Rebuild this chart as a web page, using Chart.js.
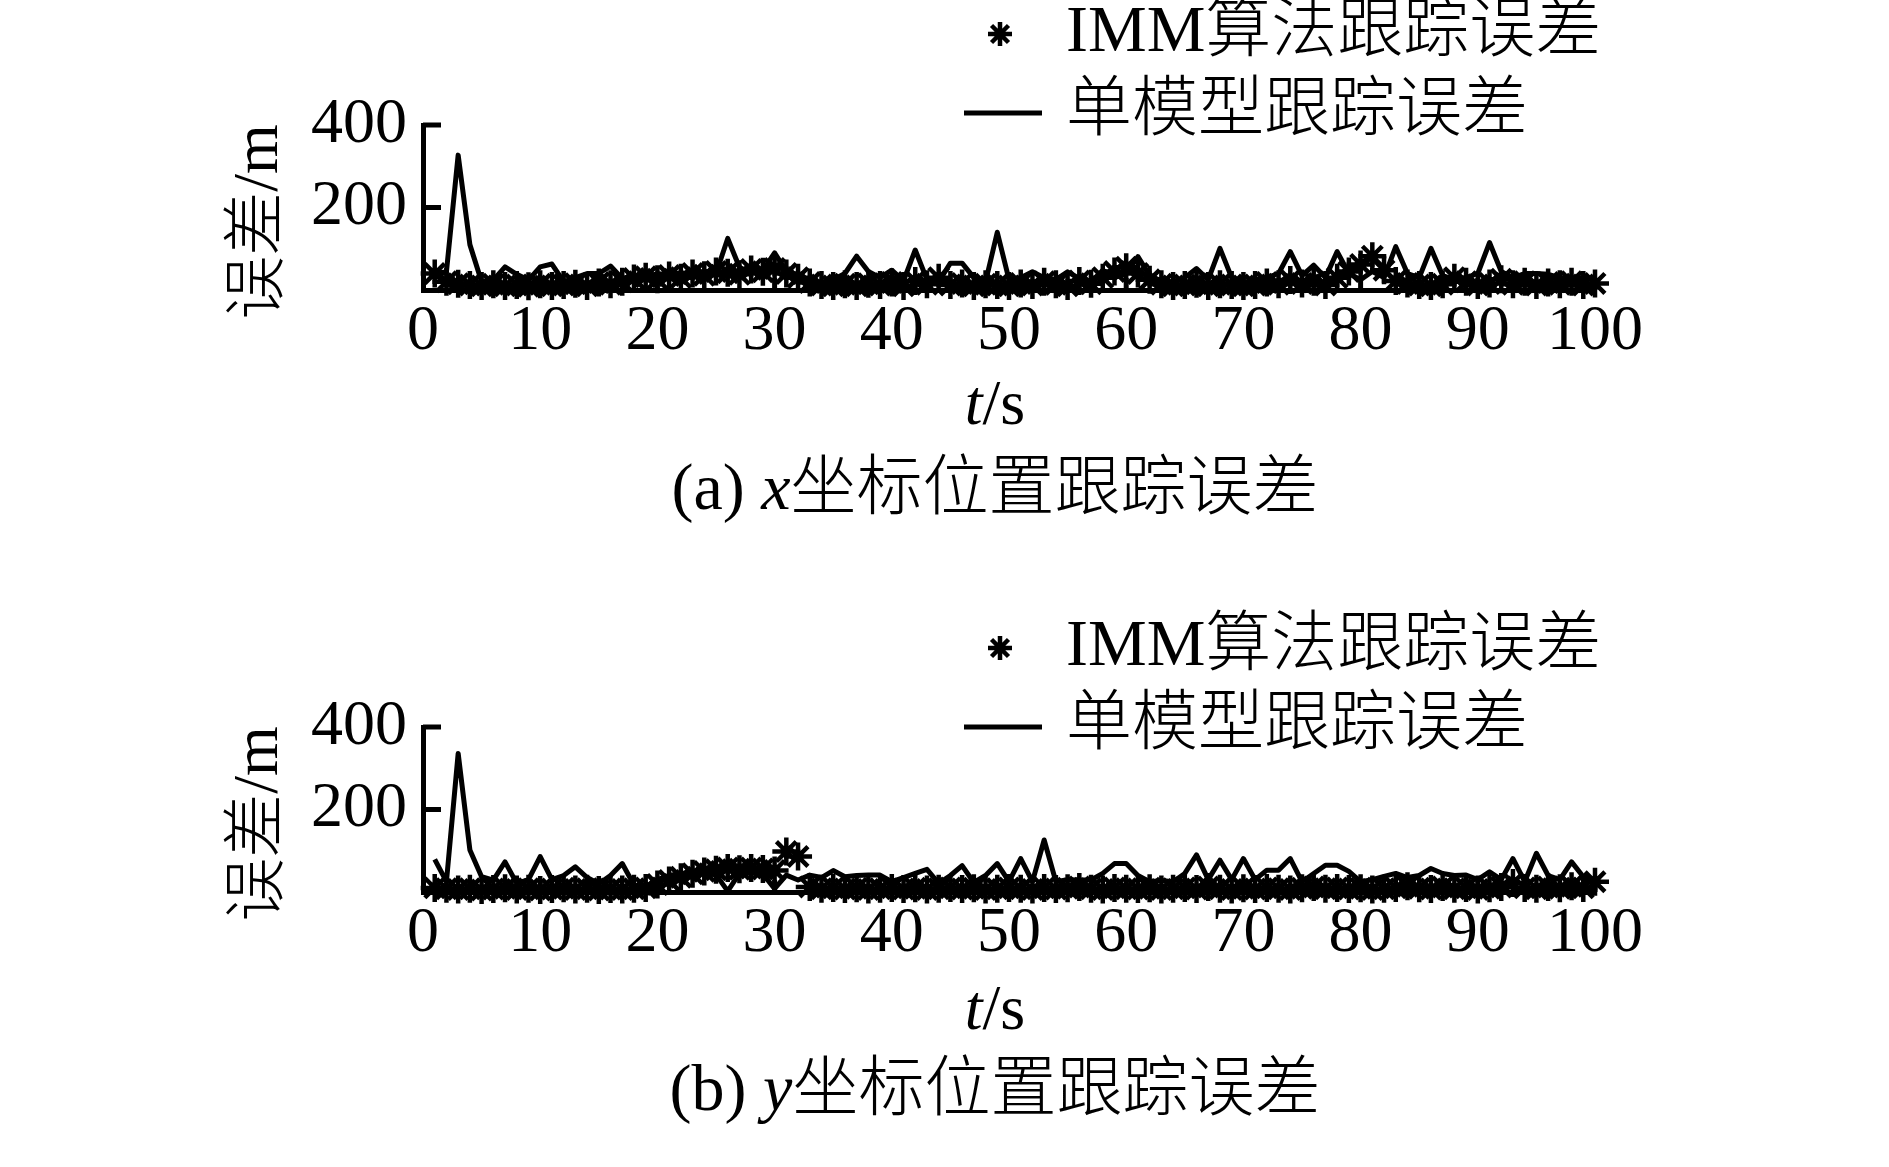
<!DOCTYPE html>
<html lang="zh">
<head>
<meta charset="utf-8">
<title>IMM tracking error</title>
<script src="https://cdn.jsdelivr.net/npm/chart.js@4.4.0/dist/chart.umd.min.js"></script>
<style>
  html, body { margin: 0; padding: 0; background: #fff; }
  #page { position: relative; width: 1889px; height: 1167px; overflow: hidden; background: #fff; }
  canvas { position: absolute; left: 0; }
  #chartX { top: 0; }
  #chartY { top: 602px; }
</style>
</head>
<body>
<div id="page">
  <canvas id="chartX" width="1889" height="565"></canvas>
  <canvas id="chartY" width="1889" height="565"></canvas>
</div>
<script>
// time, s
const times = [1, 2, 3, 4, 5, 6, 7, 8, 9, 10,
  11, 12, 13, 14, 15, 16, 17, 18, 19, 20,
  21, 22, 23, 24, 25, 26, 27, 28, 29, 30,
  31, 32, 33, 34, 35, 36, 37, 38, 39, 40,
  41, 42, 43, 44, 45, 46, 47, 48, 49, 50,
  51, 52, 53, 54, 55, 56, 57, 58, 59, 60,
  61, 62, 63, 64, 65, 66, 67, 68, 69, 70,
  71, 72, 73, 74, 75, 76, 77, 78, 79, 80,
  81, 82, 83, 84, 85, 86, 87, 88, 89, 90,
  91, 92, 93, 94, 95, 96, 97, 98, 99, 100];

// (a) x position error, m
const immX = [40, 20, 15, 12, 10, 14, 10, 12, 9, 14,
  10, 12, 15, 10, 18, 14, 20, 28, 32, 26,
  35, 30, 40, 36, 45, 42, 38, 50, 44, 52,
  40, 30, 18, 12, 10, 14, 10, 15, 12, 18,
  10, 22, 14, 30, 12, 16, 10, 14, 12, 10,
  16, 12, 20, 14, 10, 22, 15, 30, 45, 55,
  40, 25, 14, 10, 12, 15, 10, 14, 12, 10,
  12, 18, 14, 24, 16, 20, 12, 30, 45, 62,
  82, 48, 22, 16, 12, 10, 14, 30, 20, 12,
  16, 26, 14, 20, 12, 18, 14, 20, 12, 16];
const singleX = [40, 44, 327, 110, 20, 24, 56, 38, 24, 56,
  63, 20, 30, 40, 40, 58, 28, 35, 30, 40,
  36, 42, 38, 45, 40, 125, 55, 40, 48, 90,
  45, 30, 22, 18, 25, 40, 82, 45, 30, 48,
  22, 97, 25, 20, 65, 65, 30, 20, 140, 25,
  30, 44, 30, 25, 44, 28, 20, 48, 30, 40,
  81, 35, 22, 20, 30, 52, 25, 101, 30, 18,
  25, 30, 40, 93, 35, 60, 30, 93, 40, 25,
  45, 30, 105, 40, 30, 101, 35, 25, 30, 40,
  115, 45, 30, 40, 40, 38, 30, 25, 30, 28];

// (b) y position error, m
const immY = [10, 8, 6, 8, 5, 7, 9, 6, 8, 5,
  7, 9, 6, 8, 5, 7, 6, 8, 10, 18,
  28, 36, 44, 50, 54, 58, 55, 58, 56, 52,
  98, 86, 12, 8, 10, 7, 9, 6, 8, 10,
  7, 9, 6, 8, 10, 7, 9, 6, 8, 10,
  8, 6, 10, 7, 9, 12, 8, 6, 10, 8,
  7, 9, 6, 8, 10, 7, 12, 8, 6, 9,
  7, 10, 8, 6, 9, 12, 8, 10, 7, 9,
  6, 8, 10, 14, 9, 7, 12, 8, 10, 6,
  9, 12, 22, 10, 8, 12, 9, 14, 10, 25];
const singleY = [79, 25, 336, 102, 37, 29, 73, 21, 30, 86,
  30, 40, 61, 35, 20, 40, 69, 17, 10, 30,
  40, 45, 48, 45, 42, 2, 45, 48, 44, 8,
  41, 29, 41, 35, 52, 37, 40, 41, 41, 25,
  35, 45, 55, 21, 40, 64, 23, 40, 69, 25,
  81, 25, 126, 25, 30, 29, 29, 45, 69, 69,
  40, 25, 28, 25, 45, 90, 30, 77, 30, 81,
  30, 53, 53, 81, 25, 45, 65, 65, 50, 25,
  30, 38, 45, 35, 40, 57, 45, 40, 41, 30,
  49, 30, 81, 25, 94, 40, 30, 73, 37, 29];

const xTicks = [0, 10, 20, 30, 40, 50, 60, 70, 80, 90, 100];
const yTicks = [200, 400];
const legendLabels = ['IMM算法跟踪误差', '单模型跟踪误差'];

const serif = '"Liberation Serif", "Times New Roman", serif';
const mixed = '"Liberation Serif", "Noto Sans CJK SC", sans-serif';

// Draw a run of differently styled text pieces as one line
function drawParts(ctx, parts, x, y, align) {
    let total = 0;
    parts.forEach(p => {
        ctx.font = p.font;
        p.w = ctx.measureText(p.text).width;
        total += p.w;
    });
    let cx = align === 'center' ? x - total / 2 : x;
    parts.forEach(p => {
        ctx.font = p.font;
        ctx.fillText(p.text, cx, y);
        cx += p.w;
    });
}

// Inward ticks, legend, axis titles and caption
function panelDecor(panel) {
    return {
        id: 'panelDecor',
        afterDraw(chart) {
            const ctx = chart.ctx;
            const { left, bottom } = chart.chartArea;
            const xs = chart.scales.x;
            const ys = chart.scales.y;

            ctx.save();
            ctx.strokeStyle = '#000';
            ctx.fillStyle = '#000';
            ctx.lineWidth = 5;

            yTicks.forEach(v => {
                const py = ys.getPixelForValue(v);
                ctx.beginPath();
                ctx.moveTo(left, py);
                ctx.lineTo(left + 18, py);
                ctx.stroke();
            });
            xTicks.forEach(v => {
                if (v === 0) return;
                const px = xs.getPixelForValue(v);
                ctx.beginPath();
                ctx.moveTo(px, bottom);
                ctx.lineTo(px, bottom - 12);
                ctx.stroke();
            });

            // legend
            const immSet = chart.data.datasets[0];
            const lineSet = chart.data.datasets[1];
            ctx.lineWidth = immSet.pointBorderWidth;
            Chart.helpers.drawPoint(ctx, {
                pointStyle: 'star', radius: 12, rotation: 0, borderWidth: immSet.pointBorderWidth
            }, 1000, panel.legendY[0]);
            ctx.lineWidth = lineSet.borderWidth;
            ctx.beginPath();
            ctx.moveTo(964, panel.legendY[1]);
            ctx.lineTo(1042, panel.legendY[1]);
            ctx.stroke();

            ctx.textBaseline = 'middle';
            ctx.textAlign = 'left';
            drawParts(ctx, [{ text: immSet.label, font: '300 66px ' + mixed }], 1066, panel.legendY[0], 'left');
            drawParts(ctx, [{ text: lineSet.label, font: '300 66px ' + mixed }], 1066, panel.legendY[1], 'left');

            // y axis title
            ctx.save();
            ctx.translate(260, 222);
            ctx.rotate(-Math.PI / 2);
            drawParts(ctx, [{ text: '误差/m', font: '300 64px ' + mixed }], 0, 0, 'center');
            ctx.restore();

            // x axis title
            drawParts(ctx, [
                { text: 't', font: 'italic 64px ' + serif },
                { text: '/s', font: '64px ' + serif }
            ], 995, panel.titleY, 'center');

            // caption
            drawParts(ctx, [
                { text: panel.tag + ' ', font: '66px ' + serif },
                { text: panel.coord, font: 'italic 66px ' + serif },
                { text: '坐标位置跟踪误差', font: '300 66px ' + mixed }
            ], 995, panel.captionY, 'center');

            ctx.restore();
        }
    };
}

function makeChart(id, imm, single, panel) {
    const toPoints = vals => vals.map((v, i) => ({ x: times[i], y: v }));
    return new Chart(document.getElementById(id), {
        type: 'line',
        data: {
            datasets: [
                {
                    label: legendLabels[0],
                    data: toPoints(imm),
                    showLine: false,
                    pointStyle: 'star',
                    pointRadius: 14,
                    pointBorderWidth: 4.5,
                    borderColor: '#000',
                    backgroundColor: '#000',
                    clip: false
                },
                {
                    label: legendLabels[1],
                    data: toPoints(single),
                    borderColor: '#000',
                    borderWidth: 5,
                    borderJoinStyle: 'round',
                    pointRadius: 0,
                    tension: 0,
                    fill: false,
                    clip: false
                }
            ]
        },
        options: {
            responsive: false,
            animation: false,
            devicePixelRatio: 1,
            events: [],
            layout: { padding: { left: 0, top: 125, right: 294, bottom: 215 } },
            plugins: {
                legend: { display: false },
                tooltip: { enabled: false }
            },
            scales: {
                x: {
                    type: 'linear',
                    min: 0,
                    max: 100,
                    afterFit: s => { s.height = 60; },
                    afterBuildTicks: s => { s.ticks = xTicks.map(v => ({ value: v })); },
                    grid: { display: false, drawTicks: false },
                    border: { display: true, color: '#000', width: 5 },
                    ticks: {
                        color: '#000',
                        font: { family: serif, size: 64 },
                        padding: 4,
                        maxRotation: 0,
                        autoSkip: false
                    }
                },
                y: {
                    type: 'linear',
                    min: 0,
                    max: 400,
                    afterFit: s => { s.width = 423; },
                    afterBuildTicks: s => { s.ticks = yTicks.map(v => ({ value: v })); },
                    grid: { display: false, drawTicks: false },
                    border: { display: true, color: '#000', width: 5 },
                    ticks: {
                        color: '#000',
                        font: { family: serif, size: 64 },
                        padding: 16
                    }
                }
            }
        },
        plugins: [panelDecor(panel)]
    });
}

makeChart('chartX', immX, singleX, { legendY: [34, 113], titleY: 407, captionY: 492, tag: '(a)', coord: 'x' });
makeChart('chartY', immY, singleY, { legendY: [46, 125], titleY: 410, captionY: 491, tag: '(b)', coord: 'y' });
</script>
</body>
</html>
